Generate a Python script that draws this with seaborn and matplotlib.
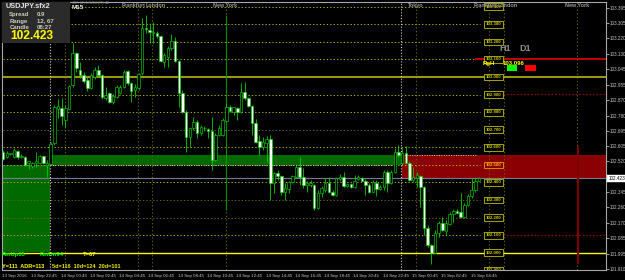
import matplotlib
matplotlib.use("Agg")
import matplotlib.pyplot as plt
import matplotlib.transforms as mtransforms
from matplotlib.patches import Rectangle
import numpy as np
import pandas as pd
import seaborn as sns

# ---------------- data ----------------
symbol = "USDJPY.sfx2"
timeframe = "M15"
current_price = 102.423

opens = [102.575, 102.547, 102.562, 102.547, 102.579, 102.543, 102.547, 102.511, 102.494, 102.511,
         102.513, 102.551, 102.499, 102.505, 102.623, 102.818, 102.824, 102.756, 102.818, 102.955,
         103.137, 103.040, 103.012, 102.983, 102.938, 103.000, 103.040, 103.012, 102.878, 102.908,
         102.860, 102.888, 102.911, 102.942, 103.034, 102.966, 102.926, 102.936, 103.021, 103.277,
         103.268, 103.249, 103.252, 103.234, 103.087, 103.116, 103.164, 103.205, 103.093, 102.911,
         102.803, 102.661, 102.708, 102.746, 102.680, 102.708, 102.703, 102.695, 102.528, 102.670,
         102.670, 102.752, 102.828, 102.803, 102.822, 102.803, 102.917, 102.879, 102.835, 102.737,
         102.636, 102.604, 102.626, 102.647, 102.395, 102.452, 102.437, 102.344, 102.361, 102.404,
         102.433, 102.486, 102.433, 102.386, 102.386, 102.386, 102.256, 102.342, 102.357, 102.395,
         102.348, 102.329, 102.421, 102.433, 102.380, 102.391, 102.373, 102.420, 102.424, 102.410,
         102.386, 102.348, 102.399, 102.363, 102.373, 102.461, 102.399, 102.461, 102.572, 102.509,
         102.566, 102.509, 102.414, 102.424, 102.437, 102.373, 102.139, 102.044, 102.000, 102.114,
         102.168, 102.126, 102.164, 102.221, 102.239, 102.234, 102.205, 102.272, 102.323, 102.357,
         102.410]
highs = [102.585, 102.579, 102.568, 102.596, 102.585, 102.562, 102.551, 102.525, 102.517, 102.575,
         102.556, 102.556, 102.528, 102.632, 102.841, 102.875, 102.881, 102.841, 102.955, 103.192,
         103.143, 103.086, 103.029, 103.000, 103.023, 103.059, 103.069, 103.017, 102.945, 102.915,
         102.904, 102.955, 102.955, 103.040, 103.040, 102.972, 102.960, 103.023, 103.334, 103.353,
         103.306, 103.315, 103.262, 103.239, 103.135, 103.177, 103.245, 103.230, 103.097, 102.926,
         102.812, 102.717, 102.774, 102.756, 102.727, 102.721, 102.710, 102.771, 102.680, 102.727,
         102.765, 102.851, 102.841, 102.831, 102.830, 102.964, 102.974, 102.886, 102.841, 102.760,
         102.670, 102.657, 102.665, 102.670, 102.461, 102.471, 102.443, 102.399, 102.410, 102.443,
         102.499, 102.547, 102.481, 102.410, 102.414, 102.391, 102.357, 102.380, 102.424, 102.433,
         102.357, 102.433, 102.448, 102.461, 102.397, 102.397, 102.443, 102.443, 102.431, 102.420,
         102.395, 102.414, 102.414, 102.386, 102.471, 102.471, 102.471, 102.595, 102.613, 102.596,
         102.608, 102.522, 102.490, 102.461, 102.443, 102.380, 102.158, 102.050, 102.130, 102.182,
         102.205, 102.186, 102.234, 102.249, 102.249, 102.342, 102.281, 102.334, 102.424, 102.424,
         102.433]
lows = [102.528, 102.539, 102.556, 102.539, 102.534, 102.539, 102.494, 102.477, 102.482, 102.490,
        102.505, 102.505, 102.433, 102.499, 102.613, 102.767, 102.727, 102.716, 102.812, 102.945,
        103.029, 102.995, 102.966, 102.921, 102.932, 102.989, 103.000, 102.875, 102.869, 102.852,
        102.847, 102.881, 102.904, 102.938, 102.955, 102.860, 102.888, 102.926, 103.012, 103.249,
        103.192, 103.192, 103.222, 103.086, 103.059, 103.059, 103.154, 103.086, 102.831, 102.795,
        102.575, 102.604, 102.699, 102.651, 102.670, 102.695, 102.651, 102.471, 102.522, 102.665,
        102.665, 102.744, 102.801, 102.784, 102.756, 102.795, 102.869, 102.831, 102.670, 102.625,
        102.556, 102.585, 102.518, 102.300, 102.342, 102.414, 102.329, 102.300, 102.338, 102.397,
        102.424, 102.386, 102.367, 102.348, 102.376, 102.243, 102.249, 102.319, 102.348, 102.340,
        102.323, 102.323, 102.410, 102.374, 102.374, 102.369, 102.367, 102.414, 102.408, 102.329,
        102.338, 102.346, 102.323, 102.357, 102.357, 102.348, 102.391, 102.454, 102.545, 102.499,
        102.505, 102.410, 102.404, 102.376, 102.262, 102.101, 102.035, 101.936, 101.997, 102.088,
        102.124, 102.101, 102.158, 102.177, 102.221, 102.196, 102.198, 102.266, 102.312, 102.348,
        102.408]
closes = [102.534, 102.570, 102.563, 102.585, 102.547, 102.552, 102.499, 102.522, 102.513, 102.522,
          102.551, 102.509, 102.513, 102.617, 102.828, 102.835, 102.778, 102.824, 102.949, 103.135,
          103.052, 103.012, 102.979, 102.938, 103.012, 103.040, 103.012, 102.888, 102.895, 102.860,
          102.892, 102.942, 102.945, 103.030, 102.966, 102.921, 102.945, 103.016, 103.277, 103.273,
          103.258, 103.258, 103.234, 103.091, 103.125, 103.164, 103.205, 103.093, 102.911, 102.803,
          102.661, 102.708, 102.746, 102.680, 102.717, 102.710, 102.693, 102.528, 102.670, 102.708,
          102.756, 102.828, 102.808, 102.828, 102.803, 102.917, 102.879, 102.835, 102.737, 102.632,
          102.600, 102.632, 102.647, 102.395, 102.452, 102.437, 102.344, 102.367, 102.404, 102.437,
          102.486, 102.429, 102.386, 102.395, 102.395, 102.256, 102.342, 102.367, 102.395, 102.348,
          102.329, 102.424, 102.433, 102.380, 102.390, 102.373, 102.408, 102.429, 102.410, 102.386,
          102.348, 102.404, 102.361, 102.376, 102.461, 102.399, 102.461, 102.572, 102.556, 102.566,
          102.509, 102.414, 102.433, 102.443, 102.373, 102.139, 102.044, 102.000, 102.114, 102.168,
          102.130, 102.168, 102.221, 102.239, 102.228, 102.205, 102.272, 102.323, 102.357, 102.410,
          102.423]

time_labels = ["13 Sep 2016", "13 Sep 22:45", "14 Sep 00:45", "14 Sep 02:45", "14 Sep 04:45",
               "14 Sep 06:45", "14 Sep 08:45", "14 Sep 10:45", "14 Sep 12:45", "14 Sep 14:45",
               "14 Sep 16:45", "14 Sep 18:45", "14 Sep 20:45", "14 Sep 22:45", "15 Sep 00:45",
               "15 Sep 02:45", "15 Sep 04:45"]
price_axis_labels = [103.395, 103.305, 103.220, 103.130, 103.045, 102.955, 102.870, 102.780,
                     102.695, 102.605, 102.520, 102.345, 102.260, 102.170, 102.085, 101.995, 101.910]
level_prices = [101.9, 102.0, 102.1, 102.2, 102.3, 102.4, 102.5, 102.6, 102.7, 102.8, 102.9,
                103.0, 103.1, 103.2, 103.3, 103.4]
dark_levels = [102.2, 102.3, 102.7]
day_starts = [13, 109]
session_names = ["Tokyo", "Frankfurt", "London", "New York", "Tokyo", "Frankfurt", "London", "New York"]
session_bars = [17, 37, 41, 61, 113, 133, 137, 157]
session_align = ["center", "right", "left", "center", "center", "right", "left", "center"]
zone_low, zone_mid, zone_high = 102.004, 102.502, 102.556
range_high_level, range_low_level = 102.902, 102.099
rgh_level = 103.100

# ---------------- style ----------------
sns.set_style("dark", {"axes.facecolor": "black", "figure.facecolor": "black"})
plt.rcParams["font.family"] = ["Liberation Sans", "DejaVu Sans"]

W, H = 625, 280
fig = plt.figure(figsize=(W / 100, H / 100), dpi=100, facecolor="black")
ax = fig.add_axes([2 / W, 10 / H, 604 / W, 268 / H])
ax.set_facecolor("black")

df = pd.DataFrame({"open": opens, "high": highs, "low": lows, "close": closes})
df["bar"] = np.arange(len(df))
df["bull"] = df["close"] >= df["open"]

XMIN, XMAX = -0.14, 164.7
ax.set_xlim(XMIN, XMAX)
ax.set_ylim(101.902, 103.427)

def fx(x):
    return x / W

def fy(y):
    return 1 - y / H

def bar_px(b):
    return 2.5 + 3.664 * b

# zones
ax.add_patch(Rectangle((XMIN, zone_low), day_starts[0] - 0.2 - XMIN, zone_mid - zone_low,
                       facecolor="#006a00", edgecolor="none", zorder=1))
ax.add_patch(Rectangle((day_starts[0] - 0.2, zone_mid), day_starts[1] - day_starts[0],
                       zone_high - zone_mid, facecolor="#006a00", edgecolor="none", zorder=1))
ax.add_patch(Rectangle((day_starts[1] - 0.05, current_price), XMAX - day_starts[1],
                       zone_high - current_price, facecolor="#8b0000", edgecolor="none", zorder=1))
ax.hlines(zone_mid, day_starts[0] - 0.2, 106.2, colors="#d8d8d8", linestyles=(0, (1, 1.5)), lw=0.7, zorder=2)
ax.hlines(zone_high, day_starts[1] - 0.05, 129.4, colors="#d8d8d8", linestyles=(0, (1, 1.5)), lw=0.7, zorder=2)

# level grid lines
for lv in level_prices:
    if abs(lv - 103.0) < 1e-6 or abs(lv - 102.0) < 1e-6:
        continue
    col = "#6a6a00" if any(abs(lv - d) < 1e-6 for d in dark_levels) else "#b4b400"
    ax.hlines(lv, XMIN, 130.3, colors=col, linestyles=(0, (1.3, 2.2)), lw=0.7, zorder=1.5)
ax.axhline(103.0, color="#9a9a00", lw=1.5, zorder=1.6)
ax.axhline(102.0, color="#ffff00", lw=1.0, zorder=1.6)
ax.axhline(current_price, color="#7a7a8a", lw=0.8, zorder=1.6)

# level boxes
for lv in level_prices:
    if abs(lv - 102.5) < 1e-6:
        tc, ec, fc = "#ffb000", "#e0a000", "#8b0000"
    else:
        tc, ec, fc = "#c8c800", "#bdbd00", "black"
    ax.text(133.95, lv, f"{lv:.3f}", ha="center", va="center", fontsize=3.2, color=tc,
            fontweight="bold", zorder=4, clip_on=True,
            bbox=dict(boxstyle="square,pad=0.3", fc=fc, ec=ec, lw=0.6))

# vertical separators
for d in day_starts:
    ax.axvline(d - 0.2, color="#d0d0d0", lw=0.8, linestyle=(0, (1, 1.6)), zorder=2)
for b in session_bars:
    ax.axvline(b - 0.2, color="#5e5e00", lw=0.8, linestyle=(0, (1.2, 2)), zorder=1.4)

# day range lines
d1 = df.iloc[day_starts[0]:day_starts[1]]
ax.vlines(session_bars[3] - 0.2, d1["low"].min(), d1["high"].max(), colors="#009000", lw=0.8, zorder=2)
d2 = df.iloc[day_starts[1]:]
ax.vlines(session_bars[7] - 0.05, d2["low"].min(), d2["high"].max(), colors="#800000", lw=1.5, zorder=2)

# red lines on the right
ax.hlines(rgh_level, 129.0, XMAX, colors="#c00000", lw=1.5, zorder=2)
ax.hlines([range_high_level, range_low_level], 136.6, XMAX, colors="#a00000",
          linestyles=(0, (1.3, 1.8)), lw=0.8, zorder=2)

# candles
green = "#00d000"
ax.vlines(df["bar"], df["low"], df["high"], colors=green, lw=0.6, zorder=3)
body_bottom = np.minimum(df["open"], df["close"])
body_h = np.maximum(np.abs(df["close"] - df["open"]), 0.004)
fills = np.where(df["bull"], "black", "white")
ax.bar(df["bar"], body_h, bottom=body_bottom, width=0.68, color=fills,
       edgecolor=green, linewidth=0.45, zorder=3.5)

# axes, ticks
for s in ["top", "left", "right", "bottom"]:
    ax.spines[s].set_visible(True)
    ax.spines[s].set_color("#a8a8a8")
    ax.spines[s].set_linewidth(0.8)
ax.yaxis.tick_right()
ax.set_yticks(price_axis_labels)
ax.set_yticklabels([f"{v:.3f}" for v in price_axis_labels])
ax.tick_params(axis="y", colors="#e0e0e0", labelcolor="#c8c8c8", labelsize=3.3, length=1.8,
               width=0.5, pad=0.8, right=True, left=False)
ax.set_xticks([8 * i - 0.3 for i in range(len(time_labels))])
ax.set_xticklabels(time_labels)
for t in ax.get_xticklabels():
    t.set_horizontalalignment("left")
ax.tick_params(axis="x", colors="#e0e0e0", labelcolor="#c8c8c8", labelsize=3.2, length=1.5,
               width=0.5, pad=1.2)
ax.grid(False)

# current price tag
tr = mtransforms.blended_transform_factory(ax.transAxes, ax.transData)
ax.text(1.004, current_price, f"{current_price:.3f}", transform=tr, ha="left", va="center",
        fontsize=3.3, color="black", clip_on=False, zorder=6,
        bbox=dict(boxstyle="square,pad=0.25", fc="white", ec="white", lw=0.3))

# session labels
for name, b, al in zip(session_names, session_bars, session_align):
    px = bar_px(b - 0.2)
    if al == "right":
        px += 8
    elif al == "left":
        px -= 6
    fig.text(fx(px), fy(5.5), name, ha=al, va="center",
             fontsize=3.9, fontweight="bold", color="#9a9a9a", zorder=4)

# header panel
fig.add_artist(Rectangle((fx(1.7), fy(43)), 68.3 / W, 41.3 / H, transform=fig.transFigure,
                         facecolor="#2b2b2b", edgecolor="none", zorder=5))
fig.text(fx(6), fy(6.3), symbol, fontsize=5.2, fontweight="bold", color="#e6e6e6",
         va="center", ha="left", zorder=6)
fig.text(fx(72), fy(3.2), "406 (3) 1.6/04 (R) 42", fontsize=2.8, color="#8a8a8a",
         va="center", ha="left", zorder=6)
fig.text(fx(72), fy(7.8), timeframe, fontsize=4.6, fontweight="bold", color="#f0f0f0",
         va="center", ha="left", zorder=6)
info_rows = [("Spread", "0.9", 14.7), ("Range", "12, 67", 21.0), ("Candle", "08:27", 27.3)]
for k, v, yy in info_rows:
    fig.text(fx(9.3), fy(yy), k, fontsize=4.3, fontweight="bold", color="#cfcfbe",
             va="center", ha="left", zorder=6)
    fig.text(fx(36.7), fy(yy), v, fontsize=4.3, fontweight="bold", color="#cfcfbe",
             va="center", ha="left", zorder=6)
fig.text(fx(10.2), fy(36.4), f"{current_price:.3f}", fontsize=8.6, fontweight="bold",
         color="#ffff00", va="center", ha="left", zorder=6)

# top-right widget
fig.text(fx(499), fy(48.3), "H1", fontsize=6.5, fontweight="bold", color="#8c8c8c",
         va="center", ha="left", zorder=6)
fig.text(fx(519), fy(48.3), "D1", fontsize=6.5, fontweight="bold", color="#8c8c8c",
         va="center", ha="left", zorder=6)
fig.text(fx(482.7), fy(63.8), "RgH", fontsize=4.3, fontweight="bold", color="#ffff00",
         va="center", ha="left", zorder=6)
fig.text(fx(502.7), fy(63.8), "103.096", fontsize=4.3, fontweight="bold", color="#ffff00",
         va="center", ha="left", zorder=6)
fig.add_artist(Rectangle((fx(506.7), fy(71.3)), 10 / W, 6 / H, transform=fig.transFigure,
                         facecolor="#00ff00", edgecolor="none", zorder=5))
fig.add_artist(Rectangle((fx(525), fy(71.3)), 11 / W, 6 / H, transform=fig.transFigure,
                         facecolor="#ff0000", edgecolor="none", zorder=5))

# bottom-left stats
fig.text(fx(1.7), fy(254.7), "RmUp65", fontsize=4.2, fontweight="bold", color="#00ff00",
         va="center", ha="left", zorder=6)
fig.text(fx(40), fy(254.7), "RmDn94", fontsize=4.2, fontweight="bold", color="#00ff00",
         va="center", ha="left", zorder=6)
fig.text(fx(82.7), fy(254.7), "T=67", fontsize=4.2, fontweight="bold", color="#ffff00",
         va="center", ha="left", zorder=6)
fig.text(fx(1.7), fy(266.3), "Y=111  ADR=113", fontsize=4.0, fontweight="bold", color="#ffff00",
         va="center", ha="left", zorder=6)
fig.text(fx(51.7), fy(266.3), "5d=116  10d=124  20d=101", fontsize=4.0, fontweight="bold",
         color="#e8e800", va="center", ha="left", zorder=6)

fig.savefig("out.png", dpi=100, facecolor="black")
